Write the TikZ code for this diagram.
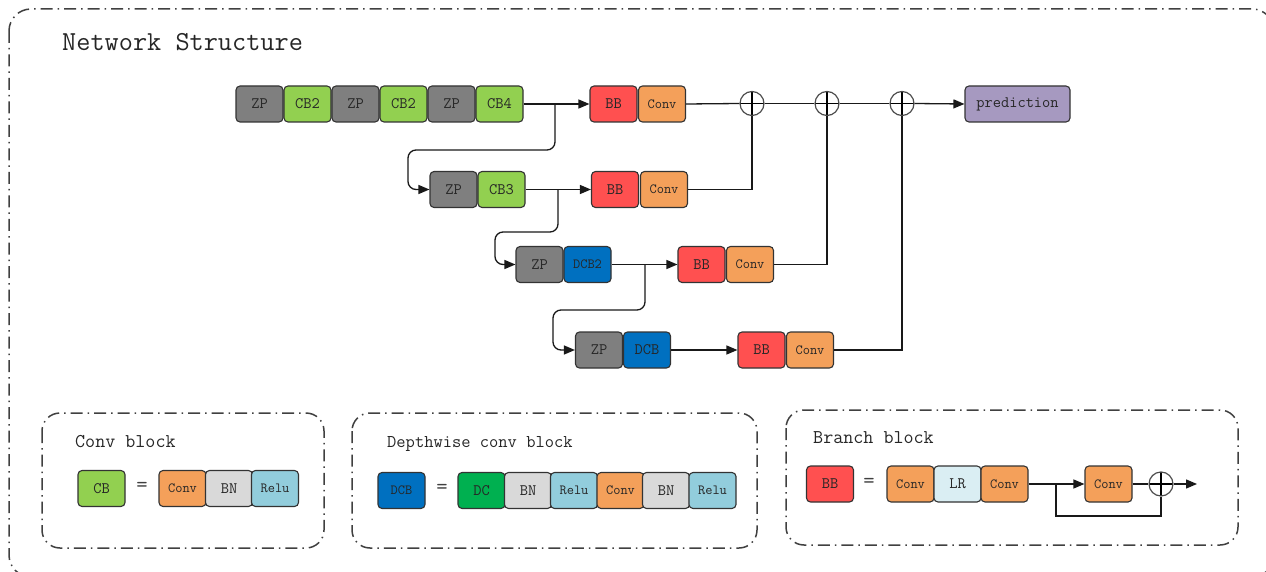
\documentclass[tikz,border=0pt]{standalone}
\usepackage{fontspec}
\usetikzlibrary{arrows.meta}
\definecolor{zpgray}{HTML}{7F7F7F}
\definecolor{cbgreen}{HTML}{92D050}
\definecolor{bbred}{HTML}{FF5050}
\definecolor{convor}{HTML}{F4A05A}
\definecolor{predpur}{HTML}{A699C0}
\definecolor{dcbblue}{HTML}{0070C0}
\definecolor{dcgreen}{HTML}{00B050}
\definecolor{bngray}{HTML}{D9D9D9}
\definecolor{reluc}{HTML}{92CDDC}
\definecolor{lrc}{HTML}{DAEEF3}
\definecolor{framec}{HTML}{404040}
\tikzset{
  blk/.style={draw=black!80, line width=1.1pt, rounded corners=4pt, minimum width=47pt,
    minimum height=36pt, inner sep=0pt, text=black!85, font=\ttfamily\fontsize{16}{16}\selectfont},
  sm/.style={font=\ttfamily\fontsize{14}{14}\selectfont},
  zp/.style={blk, fill=zpgray},
  cb/.style={blk, fill=cbgreen},
  bb/.style={blk, fill=bbred},
  cv/.style={blk, sm, fill=convor},
  dcb/.style={blk, fill=dcbblue},
  dc/.style={blk, fill=dcgreen},
  bn/.style={blk, fill=bngray},
  relu/.style={blk, sm, fill=reluc},
  lr/.style={blk, fill=lrc},
  pred/.style={blk, fill=predpur, minimum width=105pt},
  sumc/.style={circle, draw=black!70, line width=1.2pt, minimum size=24pt, inner sep=0pt,
    path picture={\draw[black, line width=1.2pt] (path picture bounding box.north) -- (path picture bounding box.south)
      (path picture bounding box.west) -- (path picture bounding box.east);}},
  conn/.style={draw=black!90, line width=1.3pt},
  arr/.style={conn, -{Triangle[length=11pt,width=9pt]}},
  dashframe/.style={draw=framec, line width=1.5pt, rounded corners=18pt,
    dash pattern=on 12pt off 5pt on 1.5pt off 5pt},
  ttl/.style={anchor=base west, inner sep=0pt, text=black!85, font=\ttfamily\fontsize{19.5}{19.5}\selectfont},
  eq/.style={inner sep=0pt, text=black!75, font=\ttfamily\fontsize{22}{22}\selectfont},
}
\begin{document}
\begin{tikzpicture}[x=1pt, y=-1pt]
\useasboundingbox (0,0) rectangle (1266,572);
\begin{scope}
\clip (0,0) rectangle (1266,572);
\draw[dashframe, rounded corners=22pt] (9,9) rectangle (1274,577);
\end{scope}
\node[ttl, font=\ttfamily\fontsize{27.5}{27.5}\selectfont] (title) at (62,51) {Network Structure};

% row 1
\node[zp] (zp1) at (259.5,104) {ZP};
\node[cb] (cb2a) at (307.5,104) {CB2};
\node[zp] (zp1b) at (355.5,104) {ZP};
\node[cb] (cb2b) at (403.5,104) {CB2};
\node[zp] (zp1c) at (451.5,104) {ZP};
\node[cb] (cb4) at (499.5,104) {CB4};
\node[bb] (bb1) at (613.5,104) {BB};
\node[cv] (cv1) at (662,104) {Conv};
\node[sumc] (s1) at (752,103.5) {};
\node[sumc] (s2) at (827,103.5) {};
\node[sumc] (s3) at (902,103.5) {};
\node[pred] (pred) at (1017.5,104) {prediction};
% row 2
\node[zp] (zp2) at (453.5,189.5) {ZP};
\node[cb] (cb3) at (501.5,189.5) {CB3};
\node[bb] (bb2) at (615,189.5) {BB};
\node[cv] (cv2) at (664,189.5) {Conv};
% row 3
\node[zp] (zp3) at (539.5,264.5) {ZP};
\node[dcb, sm] (dcb2) at (587.5,264.5) {DCB2};
\node[bb] (bb3) at (701.5,264.5) {BB};
\node[cv] (cv3) at (750,264.5) {Conv};
% row 4
\node[zp] (zp4) at (599,350) {ZP};
\node[dcb] (dcb) at (647,350) {DCB};
\node[bb] (bb4) at (761.5,350) {BB};
\node[cv] (cv4) at (810,350) {Conv};

% connectors
\draw[arr] (cb4.east) -- (bb1.west);
\draw[arr] (cb3.east) -- (bb2.west);
\draw[arr] (dcb2.east) -- (bb3.west);
\draw[arr] (dcb.east) -- (bb4.west);
\coordinate (b1) at (555,104);
\coordinate (k1) at (408,150);
\coordinate (b2) at (558,189.5);
\coordinate (k2) at (495,232);
\coordinate (b3) at (645,264.5);
\coordinate (k3) at (553,310);
\draw[arr, rounded corners=8pt] (b1) |- (k1) |- (zp2.west);
\draw[arr, rounded corners=8pt] (b2) |- (k2) |- (zp3.west);
\draw[arr, rounded corners=8pt] (b3) |- (k3) |- (zp4.west);
\draw[conn] (cv1.east) -- (s1.west);
\draw[conn] (s1.east) -- (s2.west);
\draw[conn] (s2.east) -- (s3.west);
\draw[arr] (s3.east) -- (pred.west);
\draw[conn] (cv2.east) -| (s1.south);
\draw[conn] (cv3.east) -| (s2.south);
\draw[conn] (cv4.east) -| (s3.south);

% panel 1
\draw[dashframe] (42,413) rectangle (324,548);
\node[ttl] (t1) at (75,447) {Conv block};
\node[cb] (pcb) at (101.5,488.5) {CB};
\node[eq] (eq1) at (142,487) {=};
\node[cv] (p1a) at (182.5,488.5) {Conv};
\node[bn] (p1b) at (229,488.5) {BN};
\node[relu] (p1c) at (275,488.5) {Relu};

% panel 2
\draw[dashframe] (352,413) rectangle (757,548);
\node[ttl, font=\ttfamily\fontsize{18}{18}\selectfont] (t2) at (387,447) {Depthwise conv block};
\node[dcb, sm] (pdcb) at (401.5,490.5) {DCB};
\node[eq] (eq2) at (442,489) {=};
\node[dc] (p2a) at (481.5,490.5) {DC};
\node[bn] (p2b) at (528,490.5) {BN};
\node[relu] (p2c) at (574,490.5) {Relu};
\node[cv] (p2d) at (620.5,490.5) {Conv};
\node[bn] (p2e) at (666,490.5) {BN};
\node[relu] (p2f) at (712.5,490.5) {Relu};

% panel 3
\draw[dashframe] (786,410) rectangle (1238,545);
\node[ttl] (t3) at (813,443) {Branch block};
\node[bb] (pbb) at (830,484) {BB};
\node[eq] (eq3) at (869,483) {=};
\node[cv] (p3a) at (910.5,484) {Conv};
\node[lr] (p3b) at (957.5,484) {LR};
\node[cv] (p3c) at (1004.5,484) {Conv};
\node[cv] (p3d) at (1108.5,484) {Conv};
\node[sumc] (ps) at (1161,484) {};
\coordinate (pb) at (1056,484);
\coordinate (pk) at (1056,516);
\coordinate (pend) at (1197,484);
\draw[arr] (p3c.east) -- (p3d.west);
\draw[conn] (pb) -- (pk) -| (ps.south);
\draw[conn] (p3d.east) -- (ps.west);
\draw[arr] (ps.east) -- (pend);
\end{tikzpicture}
\end{document}
